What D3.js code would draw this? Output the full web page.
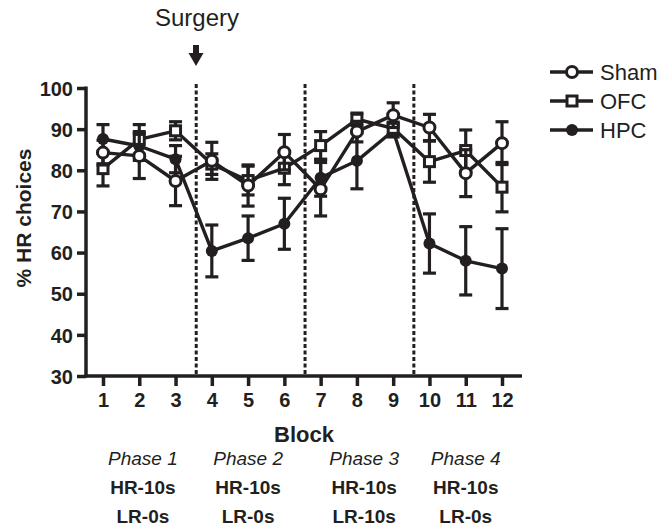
<!DOCTYPE html>
<html>
<head>
<meta charset="utf-8">
<script src="https://cdn.jsdelivr.net/npm/d3@7"></script>
<style>
  body { margin: 0; background: #fff; }
  svg { display: block; font-family: "Liberation Sans", Arial, sans-serif; }
</style>
</head>
<body>
<svg width="663" height="527"></svg>
<script>
// data
var blocks = [1, 2, 3, 4, 5, 6, 7, 8, 9, 10, 11, 12];
var sham    = [84.3, 83.5, 77.4, 82.3, 76.3, 84.4, 75.4, 89.4, 93.4, 90.4, 79.3, 86.6];
var shamSem = [3, 5.5, 6, 4.5, 5, 4.3, 6.5, 2.5, 3, 3.2, 5.7, 5.2];
var ofc     = [80.4, 87.5, 89.6, 81.5, 77.5, 80.5, 86, 92.4, 90.2, 82.1, 84.8, 75.9];
var ofcSem  = [4.2, 3.6, 2.2, 2.5, 3.5, 4, 3.4, 1.5, 1.5, 5, 5, 6];
var hpc     = [87.6, 85.9, 82.7, 60.4, 63.5, 67, 78.2, 82.3, 89.6, 62.2, 58, 56.1];
var hpcSem  = [3.5, 3.5, 3.3, 6.3, 5.4, 6.2, 4.5, 6.8, 1.5, 7.2, 8.3, 9.7];
var yTicks = [30, 40, 50, 60, 70, 80, 90, 100];
var phaseBreaks = [3.57, 6.57, 9.57];
var phaseNames = ["Phase 1", "Phase 2", "Phase 3", "Phase 4"];
var phaseHR = ["HR-10s", "HR-10s", "HR-10s", "HR-10s"];
var phaseLR = ["LR-0s", "LR-0s", "LR-10s", "LR-0s"];
var phaseAt = [2.1, 5.0, 8.2, 11.0];

var config = { left: 86, right: 522, top: 88, bottom: 376 };

var x = d3.scaleLinear().domain([1, 12]).range([103, 502]);
var y = d3.scaleLinear().domain([30, 100]).range([config.bottom, config.top]);

var svg = d3.select("svg");
var ink = "#231f20";

// phase separators
svg.append("g").selectAll("line")
  .data(phaseBreaks)
  .enter().append("line")
    .attr("x1", function(d) { return x(d); })
    .attr("x2", function(d) { return x(d); })
    .attr("y1", 84)
    .attr("y2", config.bottom)
    .attr("stroke", ink)
    .attr("stroke-width", 3)
    .attr("stroke-dasharray", "4,2.5");

// axes
var yAxis = d3.axisLeft(y).tickValues(yTicks).tickSize(9).tickPadding(4);
var gy = svg.append("g").attr("transform", "translate(" + config.left + ",0)").call(yAxis);
gy.select(".domain").remove();
gy.selectAll(".tick line").attr("stroke", ink).attr("stroke-width", 3.5);
gy.selectAll("text").attr("fill", ink).style("font-size", "20px").style("font-weight", "bold")
  .attr("dy", "0.36em");
svg.append("line")
  .attr("x1", config.left).attr("x2", config.left)
  .attr("y1", config.top - 1.5).attr("y2", config.bottom + 1.5)
  .attr("stroke", ink).attr("stroke-width", 3.5);

var xAxis = d3.axisBottom(x).tickValues(blocks).tickSize(10).tickPadding(7);
var gx = svg.append("g").attr("transform", "translate(0," + config.bottom + ")").call(xAxis);
gx.select(".domain").remove();
gx.selectAll(".tick line").attr("stroke", ink).attr("stroke-width", 3.5);
gx.selectAll("text").attr("fill", ink).style("font-size", "20px").style("font-weight", "bold");
svg.append("line")
  .attr("x1", config.left - 1.5).attr("x2", config.right)
  .attr("y1", config.bottom).attr("y2", config.bottom)
  .attr("stroke", ink).attr("stroke-width", 3.5);

// axis titles
svg.append("text")
  .attr("transform", "translate(31,218) rotate(-90)")
  .attr("text-anchor", "middle")
  .attr("fill", ink)
  .style("font-size", "21px").style("font-weight", "bold")
  .text("% HR choices");

svg.append("text")
  .attr("x", (config.left + config.right) / 2)
  .attr("y", 442)
  .attr("text-anchor", "middle")
  .attr("fill", ink)
  .style("font-size", "22px").style("font-weight", "bold")
  .text("Block");

// phase descriptions
var ph = svg.append("g").selectAll("g")
  .data(phaseAt)
  .enter().append("g")
  .attr("transform", function(d) { return "translate(" + x(d) + ",0)"; });
ph.append("text").attr("y", 465).attr("text-anchor", "middle").attr("fill", ink)
  .style("font-size", "19px").style("font-style", "italic")
  .text(function(d, i) { return phaseNames[i]; });
ph.append("text").attr("y", 494).attr("text-anchor", "middle").attr("fill", ink)
  .style("font-size", "19px").style("font-weight", "bold")
  .text(function(d, i) { return phaseHR[i]; });
ph.append("text").attr("y", 523).attr("text-anchor", "middle").attr("fill", ink)
  .style("font-size", "19px").style("font-weight", "bold")
  .text(function(d, i) { return phaseLR[i]; });

// surgery marker
svg.append("text")
  .attr("x", 197).attr("y", 26)
  .attr("text-anchor", "middle")
  .attr("fill", ink)
  .style("font-size", "24px")
  .text("Surgery");
svg.append("path")
  .attr("d", "M193,45 L199,45 L199,53 L203.5,53 L196,66 L188.5,53 L193,53 Z")
  .attr("fill", ink);

// series
var series = [
  { name: "HPC", values: hpc, sem: hpcSem, shape: "dot" },
  { name: "OFC", values: ofc, sem: ofcSem, shape: "square" },
  { name: "Sham", values: sham, sem: shamSem, shape: "circle" }
];

var line = d3.line()
  .x(function(d) { return x(d.b); })
  .y(function(d) { return y(d.v); });

function drawMarker(g, shape) {
  if (shape == "square") {
    g.append("rect").attr("x", -5).attr("y", -5).attr("width", 10).attr("height", 10)
      .attr("fill", "#fff").attr("stroke", ink).attr("stroke-width", 3);
  } else if (shape == "circle") {
    g.append("circle").attr("r", 5.5)
      .attr("fill", "#fff").attr("stroke", ink).attr("stroke-width", 3);
  } else {
    g.append("circle").attr("r", 6).attr("fill", ink);
  }
}

series.forEach(function(s) {
  var pts = blocks.map(function(b, i) { return { b: b, v: s.values[i], e: s.sem[i] }; });
  var g = svg.append("g").attr("class", "series");

  var eb = g.selectAll("g.err").data(pts).enter().append("g").attr("class", "err")
    .attr("stroke", ink).attr("stroke-width", 3.2);
  eb.append("line")
    .attr("x1", function(d) { return x(d.b); }).attr("x2", function(d) { return x(d.b); })
    .attr("y1", function(d) { return y(d.v + d.e); }).attr("y2", function(d) { return y(d.v - d.e); });
  eb.append("line")
    .attr("x1", function(d) { return x(d.b) - 6.5; }).attr("x2", function(d) { return x(d.b) + 6.5; })
    .attr("y1", function(d) { return y(d.v + d.e); }).attr("y2", function(d) { return y(d.v + d.e); });
  eb.append("line")
    .attr("x1", function(d) { return x(d.b) - 6.5; }).attr("x2", function(d) { return x(d.b) + 6.5; })
    .attr("y1", function(d) { return y(d.v - d.e); }).attr("y2", function(d) { return y(d.v - d.e); });

  g.append("path").datum(pts)
    .attr("d", line)
    .attr("fill", "none")
    .attr("stroke", ink)
    .attr("stroke-width", 3.4)
    .attr("stroke-linejoin", "round");

  g.selectAll("g.pt").data(pts).enter().append("g").attr("class", "pt")
    .attr("transform", function(d) { return "translate(" + x(d.b) + "," + y(d.v) + ")"; })
    .each(function() { drawMarker(d3.select(this), s.shape); });
});

// legend
var legendOrder = ["Sham", "OFC", "HPC"];
var leg = svg.append("g").selectAll("g")
  .data(legendOrder)
  .enter().append("g")
  .attr("transform", function(d, i) { return "translate(550," + (72 + 29 * i) + ")"; });
leg.append("line").attr("x1", 0).attr("x2", 43).attr("stroke", ink).attr("stroke-width", 3.4);
leg.each(function(d) {
  var s = series.filter(function(t) { return t.name == d; })[0];
  var m = d3.select(this).append("g").attr("transform", "translate(22,0)");
  drawMarker(m, s.shape);
});
leg.append("text").attr("x", 50).attr("y", 8).attr("fill", ink)
  .style("font-size", "22px")
  .text(function(d) { return d; });
</script>
</body>
</html>
